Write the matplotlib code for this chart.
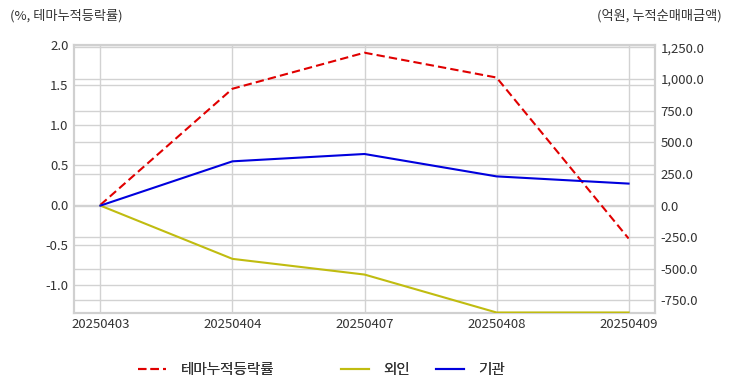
import matplotlib
matplotlib.use("Agg")
import matplotlib.pyplot as plt
from matplotlib.transforms import blended_transform_factory

plt.rcParams['font.family'] = ['Noto Sans CJK KR', 'DejaVu Sans']

dates = ["20250403", "20250404", "20250407", "20250408", "20250409"]
theme_rate = [0.0, 1.45, 1.90, 1.59, -0.42]
foreign = [0.0, -421.0, -545.0, -845.0, -845.0]
institution = [0.0, 350.0, 408.0, 231.0, 174.0]

left_ticks = [-1.0, -0.5, 0.0, 0.5, 1.0, 1.5, 2.0]
right_ticks = [-750, -500, -250, 0, 250, 500, 750, 1000, 1250]

label_theme = "테마누적등락률"
label_foreign = "외인"
label_inst = "기관"
left_title = "(%, 테마누적등락률)"
right_title = "(억원, 누적순매매금액)"

W, H = 732, 392
fig = plt.figure(figsize=(W / 100, H / 100), dpi=100)
L, R, T, B = 74, 655, 44.7, 312.5
ax = fig.add_axes([L / W, 1 - B / H, (R - L) / W, (B - T) / H])
ax2 = ax.twinx()

grid_c = "#d2d2d2"
spine_c = "#d0d0d0"
text_c = "#333333"

x = list(range(len(dates)))

l1, = ax.plot(x, theme_rate, color="#e00000", lw=1.5, linestyle=(0, (4, 2)), label=label_theme, zorder=3)
l2, = ax2.plot(x, foreign, color="#c0bc10", lw=1.5, label=label_foreign, zorder=3)
l3, = ax2.plot(x, institution, color="#0000dd", lw=1.5, label=label_inst, zorder=3)

ax.set_xlim(-0.2, 4.2)
ax.set_ylim(-1.344, 2.0)
ax2.set_ylim(-845, 1272)

ax.set_xticks(x)
ax.set_xticklabels(dates)
ax.set_yticks(left_ticks)
ax.set_yticklabels([f"{v:.1f}" for v in left_ticks])
ax2.set_yticks(right_ticks)
ax2.set_yticklabels([f"{v:,.1f}" for v in right_ticks])

ax.grid(True, axis="both", color=grid_c, lw=1.0, zorder=0)
ax.set_axisbelow(True)
tr = blended_transform_factory(ax.transAxes, ax2.transData)
for v in right_ticks:
    ax.plot([0, 1], [v, v], transform=tr, color=grid_c, lw=1.0, zorder=0.5)

for a in (ax, ax2):
    a.tick_params(length=0, labelsize=9.5, labelcolor=text_c)
    for s in a.spines.values():
        s.set_color(spine_c)
        s.set_linewidth(1.5)
ax.tick_params(axis="y", pad=4)
ax2.tick_params(axis="y", pad=4)
ax.tick_params(axis="x", pad=4)

fig.text(10 / W, 1 - 16 / H, left_title, ha="left", va="center", fontsize=9.5, color=text_c)
fig.text(722 / W, 1 - 16 / H, right_title, ha="right", va="center", fontsize=9.5, color=text_c)

for handle, lab, x0 in ((l1, label_theme, 138), (l2, label_foreign, 341), (l3, label_inst, 436)):
    lg = fig.legend([handle], [lab], loc="center left", bbox_to_anchor=(x0 / W, 1 - 370 / H),
                    frameon=False, fontsize=10.5, handlelength=1.95, handletextpad=0.95,
                    borderpad=0, borderaxespad=0, labelcolor=text_c)
    fig.add_artist(lg)

fig.savefig("out.png", dpi=100, facecolor="white")
